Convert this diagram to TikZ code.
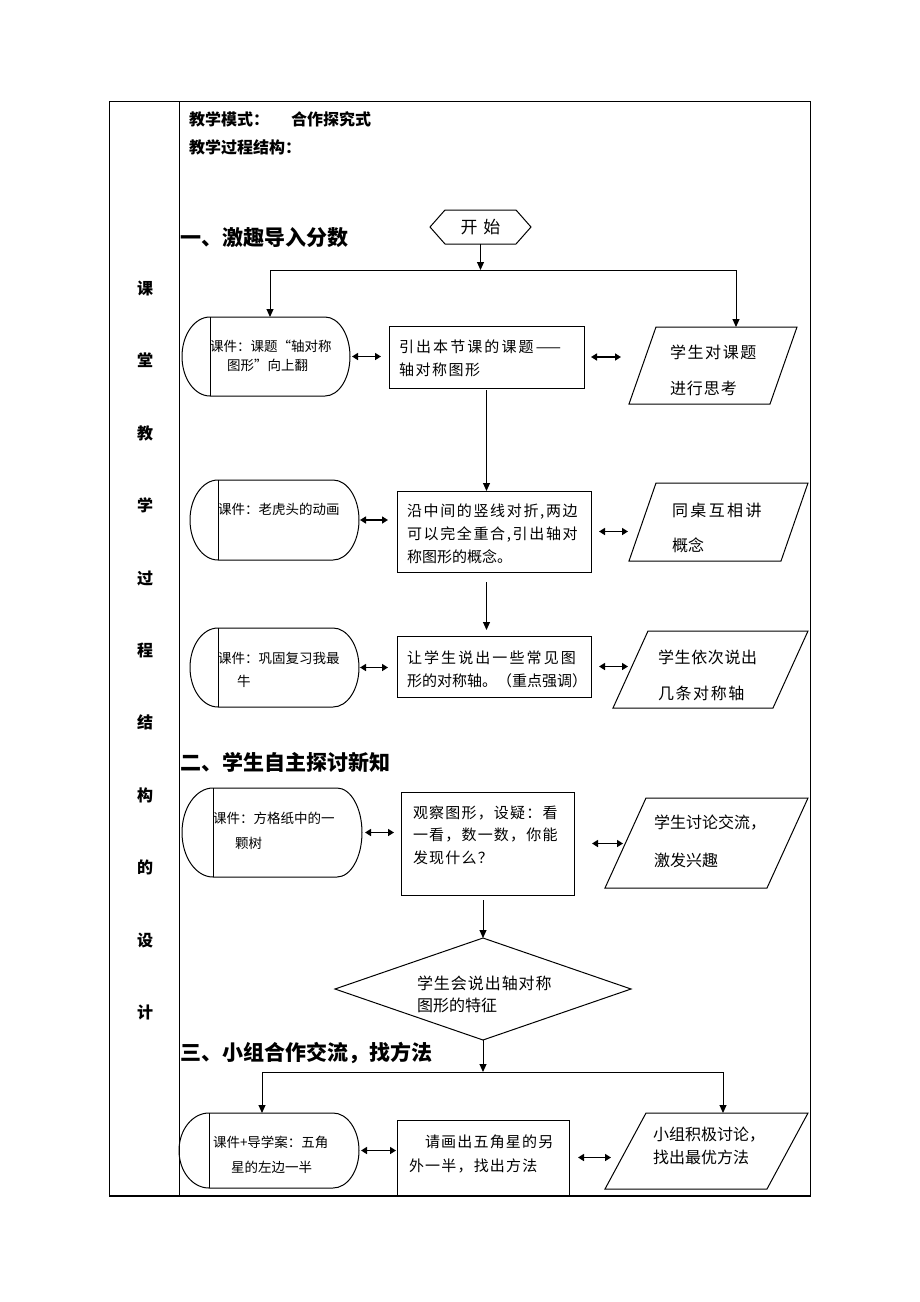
\documentclass[tikz,border=0pt]{standalone}
\usepackage{fontspec}
\setmainfont{Noto Sans CJK SC}
\usetikzlibrary{arrows.meta,calc}
\newcommand\fs[1]{\fontsize{#1}{#1}\selectfont}
\newcommand\LS[2]{{\addfontfeature{LetterSpace=#1}#2}}
\newcommand\mkstad[7]{% name x1 x2 ytop ybot rl rr
  \pgfmathsetmacro\stX{(#2+#3)/2}\pgfmathsetmacro\stY{-(#4+#5)/2}%
  \pgfmathsetmacro\stW{#3-#2}\pgfmathsetmacro\stH{#5-#4}\pgfmathsetmacro\stHH{(#5-#4)/2}%
  \node[minimum width=\stW pt,minimum height=\stH pt] (#1) at (\stX,\stY) {};
  \draw[shp] ([xshift=#6pt]#1.north west) -- ([xshift=-#7pt]#1.north east)
     arc[start angle=90,end angle=-90,x radius=#7,y radius=\stHH]
     -- ([xshift=#6pt]#1.south west)
     arc[start angle=270,end angle=90,x radius=#6,y radius=\stHH] -- cycle;
  \draw[shp] ([xshift=#6pt]#1.north west) -- ([xshift=#6pt]#1.south west);
}
\newcommand\mkpara[6]{% name xbl xtr ytop ybot slant
  \pgfmathsetmacro\stX{(#2+#3)/2}\pgfmathsetmacro\stY{-(#4+#5)/2}%
  \pgfmathsetmacro\stW{#3-#2}\pgfmathsetmacro\stH{#5-#4}%
  \node[minimum width=\stW pt,minimum height=\stH pt] (#1) at (\stX,\stY) {};
  \draw[shp] ([xshift=#6pt]#1.north west) -- (#1.north east)
     -- ([xshift=-#6pt]#1.south east) -- (#1.south west) -- cycle;
}
\newcommand\mkrect[5]{% name x1 x2 ytop ybot
  \pgfmathsetmacro\stX{(#2+#3)/2}\pgfmathsetmacro\stY{-(#4+#5)/2}%
  \pgfmathsetmacro\stW{#3-#2}\pgfmathsetmacro\stH{#5-#4}%
  \node[draw,line width=1pt,minimum width=\stW pt,minimum height=\stH pt] (#1) at (\stX,\stY) {};
}
\newcommand\tx[5]{\node[anchor=west,font=#4] (#1) at (#2,-#3) {#5};}
\begin{document}
\begin{tikzpicture}[x=1pt,y=1pt,
  every node/.style={inner sep=0pt,outer sep=0pt},
  shp/.style={line width=1pt},
  arr/.style={line width=1pt,-{Triangle[length=8pt,width=7pt]}},
  dbl/.style={line width=1.6pt,{Triangle[length=6pt,width=7pt]}-{Triangle[length=6pt,width=7pt]}},
]
\useasboundingbox (0,0) rectangle (920,-1302);
\fill[white] (0,0) rectangle (920,-1302);

% table frame
\draw[line width=1pt] (109,-101) rectangle (810,-1196);
\draw[line width=1pt] (179,-101) -- (179,-1196);
\draw[line width=2pt] (109,-1196) -- (811,-1196);

% left column
\foreach \c/\yy [count=\i] in {课/288,堂/360,教/433,学/505,过/578,程/650,结/722,构/795,的/867,设/940,计/1012}
  \node[font=\bfseries\fs{16}] (col\i) at (145,-\yy) {\c};

% header
\tx{hA}{189}{119}{\bfseries\fs{16}}{教学模式：\hspace{22pt}合作探究式}
\tx{hB}{189}{147}{\bfseries\fs{16}}{教学过程结构：}
\tx{H1}{180}{238}{\bfseries\fs{21}}{一、激趣导入分数}
\tx{H2}{180}{762}{\bfseries\fs{21}}{二、学生自主探讨新知}
\tx{H3}{180}{1053}{\bfseries\fs{21}}{三、小组合作交流，找方法}

% start
\node[minimum width=101pt,minimum height=34pt,font=\fs{17}] (start) at (480.5,-227) {开\hspace{6pt}始};
\draw[shp] (start.west) -- ([xshift=15pt]start.north west) -- ([xshift=-15pt]start.north east)
  -- (start.east) -- ([xshift=-15pt]start.south east) -- ([xshift=15pt]start.south west) -- cycle;
\coordinate (j1) at (480.5,-270);
\coordinate (j1l) at (270,-270);
\coordinate (j1r) at (736,-270);

% ---------- row 1
\mkstad{L1}{182}{350}{317}{396}{28}{25}
\mkrect{M1}{389}{584}{326}{388}
\mkpara{R1}{629}{797}{327}{404}{27}
\tx{tL1a}{210}{346}{\fs{13.5}}{课件：课题“轴对称}
\tx{tL1b}{227}{365}{\fs{13.5}}{图形”向上翻}
\tx{tM1a}{399}{347}{\fs{15}}{\LS{14}{引出本节课的课题——}}
\tx{tM1b}{399}{370}{\fs{15}}{\LS{10}{轴对称图形}}
\tx{tR1a}{670}{352}{\fs{16}}{\LS{10}{学生对课题}}
\tx{tR1b}{670}{388}{\fs{16}}{\LS{6}{进行思考}}

% ---------- row 2
\mkstad{L2}{190}{359}{480}{560}{28}{26}
\mkrect{M2}{397}{591}{491}{572}
\mkpara{R2}{629}{808}{483}{561}{27}
\tx{tL2a}{218}{509}{\fs{13.5}}{课件：老虎头的动画}
\tx{tM2a}{407}{512}{\fs{15}}{\LS{11}{沿中间的竖线对折,两边}}
\tx{tM2b}{407}{535}{\fs{15}}{\LS{11}{可以完全重合,引出轴对}}
\tx{tM2c}{407}{557}{\fs{15}}{称图形的概念。}
\tx{tR2a}{672}{510}{\fs{16}}{\LS{15}{同桌互相讲}}
\tx{tR2b}{672}{545}{\fs{16}}{概念}

% ---------- row 3
\mkstad{L3}{190}{359}{628}{707}{28}{26}
\mkrect{M3}{397}{591}{636}{697}
\mkpara{R3}{613}{808}{631}{708}{35}
\tx{tL3a}{218}{658}{\fs{13.5}}{课件：巩固复习我最}
\tx{tL3b}{237}{681}{\fs{13.5}}{牛}
\tx{tM3a}{407}{658}{\fs{15}}{\LS{14}{让学生说出一些常见图}}
\tx{tM3b}{407}{681}{\fs{15}}{形的对称轴。（重点强调）}
\tx{tR3a}{658}{657}{\fs{16}}{\LS{4}{学生依次说出}}
\tx{tR3b}{658}{693}{\fs{16}}{\LS{10}{几条对称轴}}

% ---------- row 4
\mkstad{L4}{182}{362}{788}{877}{31}{25}
\mkrect{M4}{401}{574}{792}{895}
\mkpara{R4}{605}{808}{798}{888}{41}
\tx{tL4a}{213}{818}{\fs{13.5}}{课件：方格纸中的一}
\tx{tL4b}{235}{843}{\fs{13.5}}{颗树}
\tx{tM4a}{413}{813}{\fs{15}}{\LS{8}{观察图形，设疑：看}}
\tx{tM4b}{413}{835}{\fs{15}}{\LS{8}{一看，数一数，你能}}
\tx{tM4c}{413}{858}{\fs{15}}{\LS{8}{发现什么？}}
\tx{tR4a}{654}{823}{\fs{16}}{学生讨论交流，}
\tx{tR4b}{654}{860}{\fs{16}}{激发兴趣}

% diamond
\node[minimum width=296pt,minimum height=102pt] (D) at (483,-989) {};
\draw[shp] (D.west) -- (D.north) -- (D.east) -- (D.south) -- cycle;
\tx{tDa}{417}{983}{\fs{16}}{\LS{6}{学生会说出轴对称}}
\tx{tDb}{417}{1005}{\fs{16}}{图形的特征}
\coordinate (j2) at (483,-1072);
\coordinate (j2l) at (262,-1072);
\coordinate (j2r) at (723,-1072);

% ---------- row 5
\mkstad{L5}{179}{359}{1113}{1188}{30}{26}
\mkrect{M5}{397}{569}{1120}{1195}
\mkpara{R5}{605}{808}{1113}{1189}{41}
\tx{tL5a}{213}{1142}{\fs{13.5}}{课件+导学案：五角}
\tx{tL5b}{231}{1167}{\fs{13.5}}{星的左边一半}
\tx{tM5a}{425}{1142}{\fs{15}}{\LS{8}{请画出五角星的另}}
\tx{tM5b}{409}{1166}{\fs{15}}{\LS{8}{外一半，找出方法}}
\tx{tR5a}{653}{1135}{\fs{16}}{小组积极讨论，}
\tx{tR5b}{653}{1157}{\fs{16}}{找出最优方法}

% ---------- connectors
\draw[arr] (start.south) -- (j1);
\draw[line width=1pt] (j1l) -- (j1r);
\draw[arr] (j1l) -- (j1l |- L1.north);
\draw[arr] (j1r) -- (j1r |- R1.north);

\draw[dbl] ([xshift=2pt]L1.east) -- ([xshift=-8pt]L1.east -| M1.west);
\draw[dbl] ([xshift=7pt]M1.east) -- ([xshift=-8pt]M1.east -| R1.west);
\draw[arr,shorten <=2pt] (M1.south) -- (M1.south |- M2.north);

\draw[dbl] ([xshift=1pt]L2.east) -- ([xshift=-9pt]L2.east -| M2.west);
\draw[dbl] ([xshift=8pt]M2.east) -- ([xshift=-1pt]M2.east -| R2.west);
\draw[arr,shorten <=10pt,shorten >=6pt] (M2.south -| M1.south) -- (M3.north -| M1.south);

\draw[dbl] ([xshift=1pt]L3.east) -- ([xshift=-9pt]L3.east -| M3.west);
\draw[dbl] ([xshift=8pt]M3.east) -- ([xshift=15pt]M3.east -| R3.west);

\draw[dbl] ([xshift=3pt]L4.east) -- ([xshift=-7pt]L4.east -| M4.west);
\draw[dbl] ([xshift=18pt]M4.east) -- ([xshift=18pt]M4.east -| R4.west);
\draw[arr,shorten <=5pt] (D.north |- M4.south) -- (D.north);

\draw[arr] (D.south) -- (j2);
\draw[line width=1pt] (j2l) -- (j2r);
\draw[arr] (j2l) -- (j2l |- L5.north);
\draw[arr] (j2r) -- (j2r |- R5.north);

\draw[dbl] ([xshift=2pt]L5.east) -- ([xshift=-1pt]L5.east -| M5.west);
\draw[dbl] ([xshift=9pt]M5.east) -- ([xshift=6pt]M5.east -| R5.west);
\end{tikzpicture}
\end{document}
